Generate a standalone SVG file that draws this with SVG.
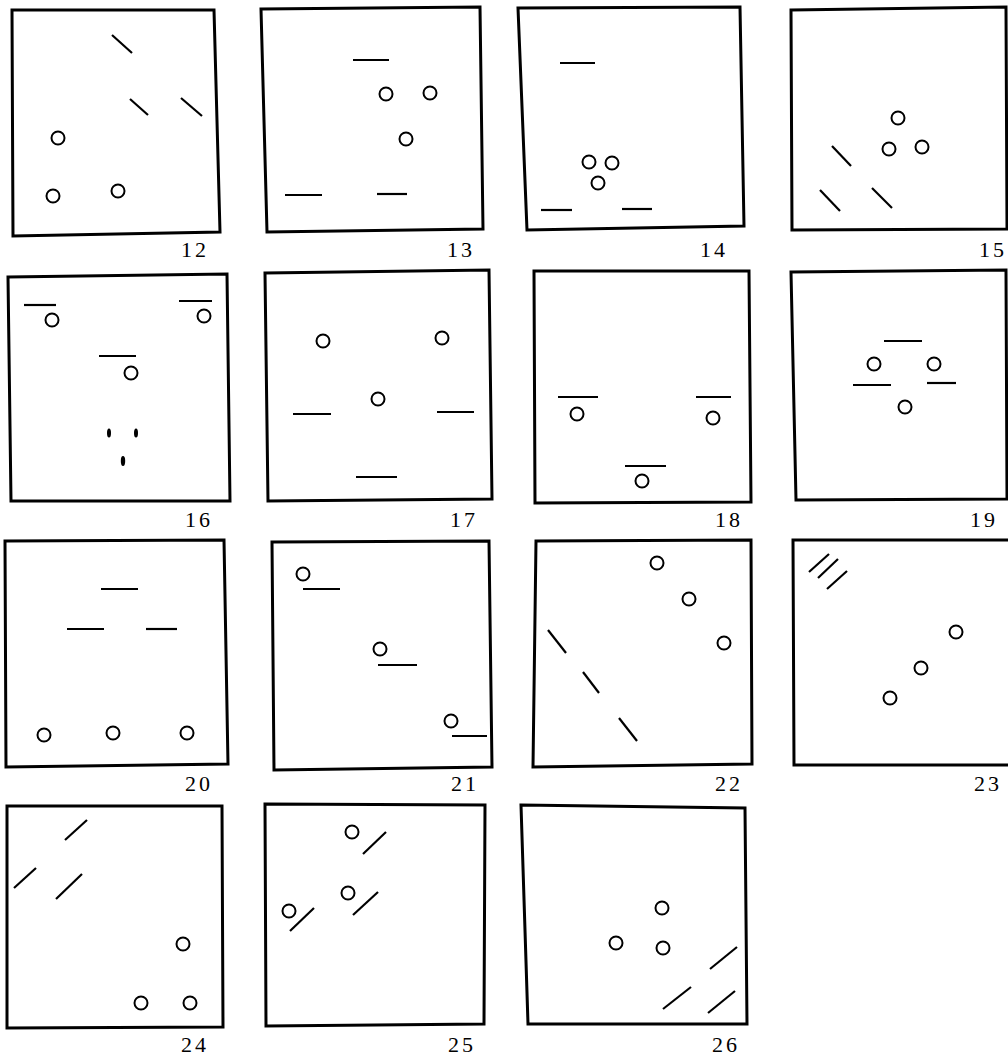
<svg xmlns="http://www.w3.org/2000/svg" width="1008" height="1061" viewBox="0 0 1008 1061">
<style>
.frame{fill:none;stroke:#000;stroke-width:3;stroke-linejoin:miter}
.bar{stroke:#000;stroke-width:2.2;fill:none}
.ring{fill:none;stroke:#000;stroke-width:2}
.lbl{font-family:"Liberation Serif","Times New Roman",serif;font-size:22px;letter-spacing:3px;fill:#000;text-anchor:middle}
</style>
<rect width="1008" height="1061" fill="#fff"/>
<g id="p12">
<polygon class="frame" points="12,10 214,10 220,232 13,236"/>
<line class="bar" x1="112" y1="35" x2="132" y2="53"/>
<line class="bar" x1="130" y1="99" x2="148" y2="115"/>
<line class="bar" x1="181" y1="98" x2="202" y2="116"/>
<circle class="ring" cx="58" cy="138" r="6.5"/>
<circle class="ring" cx="53" cy="196" r="6.5"/>
<circle class="ring" cx="118" cy="191" r="6.5"/>
<text class="lbl" x="195" y="257">12</text>
</g>
<g id="p13">
<polygon class="frame" points="261,9 480,7 483,229 267,232"/>
<line class="bar" x1="353" y1="60" x2="389" y2="60"/>
<line class="bar" x1="285" y1="195" x2="322" y2="195"/>
<line class="bar" x1="377" y1="194" x2="407" y2="194"/>
<circle class="ring" cx="386" cy="94" r="6.5"/>
<circle class="ring" cx="430" cy="93" r="6.5"/>
<circle class="ring" cx="406" cy="139" r="6.5"/>
<text class="lbl" x="461" y="257">13</text>
</g>
<g id="p14">
<polygon class="frame" points="518,8 740,7 744,226 527,230"/>
<line class="bar" x1="560" y1="63" x2="595" y2="63"/>
<line class="bar" x1="541" y1="210" x2="572" y2="210"/>
<line class="bar" x1="622" y1="209" x2="652" y2="209"/>
<circle class="ring" cx="589" cy="162" r="6.5"/>
<circle class="ring" cx="612" cy="163" r="6.5"/>
<circle class="ring" cx="598" cy="183" r="6.5"/>
<text class="lbl" x="714" y="257">14</text>
</g>
<g id="p15">
<polygon class="frame" points="791,10 1006,7 1007,229 792,230"/>
<line class="bar" x1="832" y1="146" x2="851" y2="166"/>
<line class="bar" x1="820" y1="190" x2="840" y2="211"/>
<line class="bar" x1="872" y1="188" x2="892" y2="208"/>
<circle class="ring" cx="898" cy="118" r="6.5"/>
<circle class="ring" cx="889" cy="149" r="6.5"/>
<circle class="ring" cx="922" cy="147" r="6.5"/>
<text class="lbl" x="993" y="257">15</text>
</g>
<g id="p16">
<polygon class="frame" points="8,277 227,274 230,501 11,501"/>
<line class="bar" x1="24" y1="305" x2="56" y2="305"/>
<line class="bar" x1="179" y1="301" x2="212" y2="301"/>
<line class="bar" x1="99" y1="356" x2="136" y2="356"/>
<circle class="ring" cx="52" cy="320" r="6.5"/>
<circle class="ring" cx="204" cy="316" r="6.5"/>
<circle class="ring" cx="131" cy="373" r="6.5"/>
<ellipse cx="109" cy="433" rx="2" ry="4.5" fill="#000"/>
<ellipse cx="136" cy="433" rx="2" ry="4.5" fill="#000"/>
<ellipse cx="123" cy="461" rx="2.2" ry="5" fill="#000"/>
<text class="lbl" x="199" y="527">16</text>
</g>
<g id="p17">
<polygon class="frame" points="265,273 489,270 492,499 268,501"/>
<line class="bar" x1="293" y1="414" x2="331" y2="414"/>
<line class="bar" x1="437" y1="412" x2="474" y2="412"/>
<line class="bar" x1="356" y1="477" x2="397" y2="477"/>
<circle class="ring" cx="323" cy="341" r="6.5"/>
<circle class="ring" cx="442" cy="338" r="6.5"/>
<circle class="ring" cx="378" cy="399" r="6.5"/>
<text class="lbl" x="464" y="527">17</text>
</g>
<g id="p18">
<polygon class="frame" points="534,271 749,271 751,502 535,503"/>
<line class="bar" x1="558" y1="397" x2="598" y2="397"/>
<line class="bar" x1="696" y1="397" x2="731" y2="397"/>
<line class="bar" x1="625" y1="466" x2="666" y2="466"/>
<circle class="ring" cx="577" cy="414" r="6.5"/>
<circle class="ring" cx="713" cy="418" r="6.5"/>
<circle class="ring" cx="642" cy="481" r="6.5"/>
<text class="lbl" x="729" y="527">18</text>
</g>
<g id="p19">
<polygon class="frame" points="791,272 1006,270 1007,499 796,500"/>
<line class="bar" x1="884" y1="341" x2="922" y2="341"/>
<line class="bar" x1="853" y1="385" x2="891" y2="385"/>
<line class="bar" x1="927" y1="383" x2="956" y2="383"/>
<circle class="ring" cx="874" cy="364" r="6.5"/>
<circle class="ring" cx="934" cy="364" r="6.5"/>
<circle class="ring" cx="905" cy="407" r="6.5"/>
<text class="lbl" x="984" y="527">19</text>
</g>
<g id="p20">
<polygon class="frame" points="5,541 224,540 228,764 6,767"/>
<line class="bar" x1="101" y1="589" x2="138" y2="589"/>
<line class="bar" x1="67" y1="629" x2="104" y2="629"/>
<line class="bar" x1="146" y1="629" x2="177" y2="629"/>
<circle class="ring" cx="44" cy="735" r="6.5"/>
<circle class="ring" cx="113" cy="733" r="6.5"/>
<circle class="ring" cx="187" cy="733" r="6.5"/>
<text class="lbl" x="199" y="791">20</text>
</g>
<g id="p21">
<polygon class="frame" points="272,542 489,541 492,767 274,770"/>
<circle class="ring" cx="303" cy="574" r="6.5"/>
<circle class="ring" cx="380" cy="649" r="6.5"/>
<circle class="ring" cx="451" cy="721" r="6.5"/>
<line class="bar" x1="303" y1="589" x2="340" y2="589"/>
<line class="bar" x1="378" y1="665" x2="417" y2="665"/>
<line class="bar" x1="452" y1="736" x2="487" y2="736"/>
<text class="lbl" x="465" y="791">21</text>
</g>
<g id="p22">
<polygon class="frame" points="536,541 751,540 752,764 533,767"/>
<circle class="ring" cx="657" cy="563" r="6.5"/>
<circle class="ring" cx="689" cy="599" r="6.5"/>
<circle class="ring" cx="724" cy="643" r="6.5"/>
<line class="bar" x1="548" y1="630" x2="566" y2="653"/>
<line class="bar" x1="583" y1="672" x2="599" y2="693"/>
<line class="bar" x1="619" y1="718" x2="637" y2="741"/>
<text class="lbl" x="729" y="791">22</text>
</g>
<g id="p23">
<polyline class="frame" points="1008,540 793,540 794,765 1008,765"/>
<line class="bar" x1="809" y1="572" x2="829" y2="554"/>
<line class="bar" x1="818" y1="578" x2="838" y2="559"/>
<line class="bar" x1="827" y1="589" x2="847" y2="571"/>
<circle class="ring" cx="956" cy="632" r="6.5"/>
<circle class="ring" cx="921" cy="668" r="6.5"/>
<circle class="ring" cx="890" cy="698" r="6.5"/>
<text class="lbl" x="988" y="791">23</text>
</g>
<g id="p24">
<polygon class="frame" points="7,806 222,806 223,1027 7,1028"/>
<line class="bar" x1="65" y1="840" x2="87" y2="820"/>
<line class="bar" x1="14" y1="888" x2="36" y2="868"/>
<line class="bar" x1="56" y1="899" x2="82" y2="874"/>
<circle class="ring" cx="183" cy="944" r="6.5"/>
<circle class="ring" cx="141" cy="1003" r="6.5"/>
<circle class="ring" cx="190" cy="1003" r="6.5"/>
<text class="lbl" x="195" y="1052">24</text>
</g>
<g id="p25">
<polygon class="frame" points="265,804 485,805 484,1024 266,1026"/>
<circle class="ring" cx="352" cy="832" r="6.5"/>
<circle class="ring" cx="348" cy="893" r="6.5"/>
<circle class="ring" cx="289" cy="911" r="6.5"/>
<line class="bar" x1="363" y1="854" x2="386" y2="832"/>
<line class="bar" x1="353" y1="915" x2="378" y2="892"/>
<line class="bar" x1="290" y1="931" x2="314" y2="908"/>
<text class="lbl" x="462" y="1052">25</text>
</g>
<g id="p26">
<polygon class="frame" points="521,805 745,808 747,1024 528,1024"/>
<circle class="ring" cx="662" cy="908" r="6.5"/>
<circle class="ring" cx="616" cy="943" r="6.5"/>
<circle class="ring" cx="663" cy="948" r="6.5"/>
<line class="bar" x1="710" y1="969" x2="737" y2="947"/>
<line class="bar" x1="663" y1="1009" x2="691" y2="987"/>
<line class="bar" x1="708" y1="1013" x2="735" y2="991"/>
<text class="lbl" x="726" y="1052">26</text>
</g>
<g id="connectors"></g>
</svg>
